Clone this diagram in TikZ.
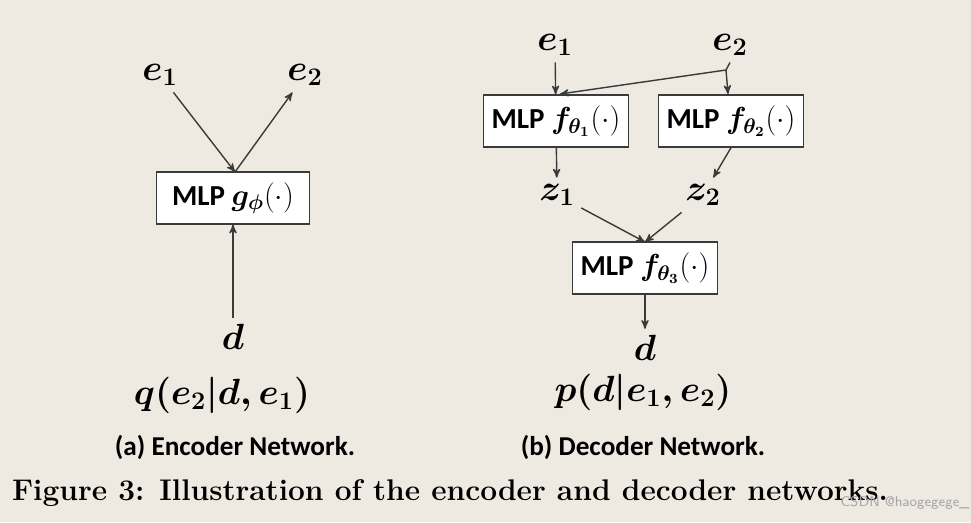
\documentclass[tikz,border=0pt]{standalone}
\usepackage{amsmath}
\usepackage{fontspec}
\newfontfamily\labfont{Carlito}
\usetikzlibrary{arrows}
\definecolor{paper}{HTML}{EEE9E1}
\definecolor{ink}{HTML}{3A3A3A}
\begin{document}
\begin{tikzpicture}[x=0.02cm,y=-0.02cm,->,>=stealth',thick,
                    mlp/.style={draw=ink,fill=white,minimum width=145*0.02cm,minimum height=52*0.02cm,
                                font=\fontsize{16.5}{18}\selectfont\labfont\bfseries},
                    var/.style={font=\fontsize{22}{26}\selectfont},
                    sub/.style={font=\fontsize{15.5}{18}\selectfont\labfont\bfseries}]
                    \fill[paper] (0,0) rectangle (971,522);
                    \useasboundingbox (0,0) rectangle (971,522);
                    % encoder
                    \node[var] (E1) at (160,75) {$\boldsymbol{e_1}$};
                    \node[var] (E2) at (305,75) {$\boldsymbol{e_2}$};
                    \node[mlp,minimum width=153*0.02cm] (G) at (233,198) {MLP $\boldsymbol{g_\phi}(\cdot)$};
                    \node[var] (D) at (233,337) {$\boldsymbol{d}$};
                    \node[var] (Q) at (222,395) {$\boldsymbol{q(e_2|d,e_1)}$};
                    \node[sub] (A) at (235,447) {(a) Encoder Network.};
                    \coordinate (GT) at (235,172);
                    \draw[ink] (E1) -- (GT);
                    \draw[ink] (GT) -- (E2);
                    \draw[ink] (D) -- (G);
                    % decoder
                    \node[var] (F1) at (555,45) {$\boldsymbol{e_1}$};
                    \node[var] (F2) at (730,45) {$\boldsymbol{e_2}$};
                    \node[mlp] (M1) at (556,121) {MLP $\boldsymbol{f_{\theta_1}}(\cdot)$};
                    \node[mlp] (M2) at (731,121) {MLP $\boldsymbol{f_{\theta_2}}(\cdot)$};
                    \node[var] (Z1) at (557,195) {$\boldsymbol{z_1}$};
                    \node[var] (Z2) at (703,195) {$\boldsymbol{z_2}$};
                    \node[mlp] (M3) at (645,268) {MLP $\boldsymbol{f_{\theta_3}}(\cdot)$};
                    \node[var] (DD) at (645,348) {$\boldsymbol{d}$};
                    \node[var] (P) at (643,392) {$\boldsymbol{p(d|e_1,e_2)}$};
                    \node[sub] (B) at (643,447) {(b) Decoder Network.};
                    \coordinate (SP) at (726,70);
                    \coordinate (M3T) at (645,242);
                    \draw[ink] (F1) -- (M1);
                    \draw[ink,-] (F2.south) -- (SP);
                    \draw[ink] (SP) -- (560,94);
                    \draw[ink] (SP) -- (728,94);
                    \draw[ink] (M1) -- (Z1);
                    \draw[ink] (M2.south) -- (Z2);
                    \draw[ink] (Z1) -- (M3T);
                    \draw[ink] (Z2) -- (M3T);
                    \draw[ink] (M3) -- (DD);
                    % caption
                    \node[font=\fontsize{17}{20}\selectfont\bfseries] (CAP) at (450,493)
                        {Figure 3: Illustration of the encoder and decoder networks.};
                    \node[text=gray!70,font=\fontsize{8}{10}\selectfont\sffamily] (WM) at (905,503) {CSDN @haogegege\_};
                \end{tikzpicture}
\end{document}
